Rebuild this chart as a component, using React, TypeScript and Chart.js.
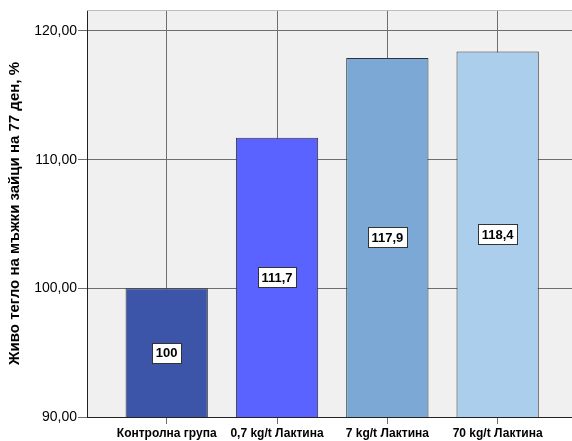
import React, { useEffect, useRef } from "react";
import { Chart, registerables } from "chart.js";

Chart.register(...registerables);

const categories = ["Контролна група", "0,7 kg/t Лактина", "7 kg/t Лактина", "70 kg/t Лактина"];
const values = [100, 111.7, 117.9, 118.4];
const valueLabels = ["100", "111,7", "117,9", "118,4"];
const barColors = ["#3D55A8", "#5A62FF", "#7BA8D5", "#ABCEEC"];
const yTicks = [90, 100, 110, 120];
const yTitle = "Живо тегло на мъжки зайци на 77 ден, %";

const FONT = "'Liberation Sans', Arial, sans-serif";

const bgPlugin = {
  id: "bgPlugin",
  beforeDraw(chart: any) {
    const { ctx, chartArea } = chart;
    ctx.save();
    ctx.fillStyle = "#F0F0F0";
    ctx.fillRect(chartArea.left, chartArea.top, chartArea.right - chartArea.left, chartArea.bottom - chartArea.top);
    ctx.restore();
  },
  afterDraw(chart: any) {
    const { ctx, chartArea } = chart;
    ctx.save();
    ctx.strokeStyle = "#BDBDBD";
    ctx.lineWidth = 1;
    ctx.beginPath();
    ctx.moveTo(chartArea.left, chartArea.top + 0.5);
    ctx.lineTo(chartArea.right, chartArea.top + 0.5);
    ctx.stroke();
    ctx.restore();
  },
};

const labelPlugin = {
  id: "labelPlugin",
  afterDraw(chart: any) {
    const { ctx } = chart;
    const xs = chart.scales.x;
    const ys = chart.scales.y;
    ctx.save();
    ctx.font = "bold 13px " + FONT;
    ctx.textAlign = "center";
    ctx.textBaseline = "middle";
    values.forEach((v: number, i: number) => {
      const text = valueLabels[i];
      const cx = xs.getPixelForValue(i);
      const cy = (ys.getPixelForValue(v) + ys.getPixelForValue(ys.min)) / 2;
      const w = Math.round(ctx.measureText(text).width + 7);
      const h = 20;
      const x0 = Math.round(cx - w / 2) + 0.5;
      const y0 = Math.round(cy - h / 2) + 0.5;
      ctx.fillStyle = "#FFFFFF";
      ctx.fillRect(x0, y0, w, h);
      ctx.strokeStyle = "#333333";
      ctx.lineWidth = 1;
      ctx.strokeRect(x0, y0, w, h);
      ctx.fillStyle = "#000000";
      ctx.fillText(text, cx, cy + 1);
    });
    ctx.restore();
  },
};

export default function App() {
  const ref = useRef<HTMLCanvasElement>(null);
  useEffect(() => {
    document.body.style.margin = "0";
    const chart = new Chart(ref.current as HTMLCanvasElement, {
      type: "bar",
      data: {
        datasets: [
          {
            data: values.map((v, i) => ({ x: i, y: v })) as any,
            backgroundColor: barColors,
            borderColor: "#333333",
            borderWidth: 1,
            barPercentage: 0.746,
            categoryPercentage: 1,
          },
        ],
      },
      options: {
        animation: false,
        responsive: false,
        maintainAspectRatio: false,
        layout: { padding: { top: 10, right: 0, left: 0, bottom: 0 } },
        plugins: { legend: { display: false }, tooltip: { enabled: false } },
        scales: {
          x: {
            type: "linear",
            offset: false,
            min: -0.7226,
            max: 3.674,
            afterBuildTicks: (scale: any) => {
              scale.ticks = categories.map((_, i) => ({ value: i }));
            },
            afterFit: (scale: any) => {
              scale.height = 24;
            },
            ticks: {
              autoSkip: false,
              maxRotation: 0,
              minRotation: 0,
              padding: 2,
              color: "#000000",
              font: { family: FONT, size: 12, weight: "bold" },
              callback: (v: any) => categories[v as number],
            },
            grid: { offset: false, color: "#6E6E6E", lineWidth: 1, tickLength: 7, drawTicks: true },
            border: { display: true, color: "#222222", width: 1 },
          },
          y: {
            min: 90,
            max: 121.63,
            afterBuildTicks: (scale: any) => {
              scale.ticks = yTicks.map((v) => ({ value: v }));
            },
            afterFit: (scale: any) => {
              scale.width = 87;
            },
            ticks: {
              color: "#000000",
              padding: 1,
              font: { family: FONT, size: 14 },
              callback: (v: any) => Number(v).toFixed(2).replace(".", ","),
            },
            grid: { color: "#6E6E6E", lineWidth: 1, tickLength: 9 },
            border: { display: true, color: "#222222", width: 1 },
            title: {
              display: true,
              text: yTitle,
              color: "#000000",
              font: { family: FONT, size: 15, weight: "bold" },
              padding: { top: 6, bottom: 0 },
            },
          },
        },
      },
      plugins: [bgPlugin, labelPlugin],
    } as any);
    return () => chart.destroy();
  }, []);
  return (
    <div style={{ width: 572, height: 441 }}>
      <canvas ref={ref} width={572} height={441} style={{ display: "block" }} />
    </div>
  );
}
